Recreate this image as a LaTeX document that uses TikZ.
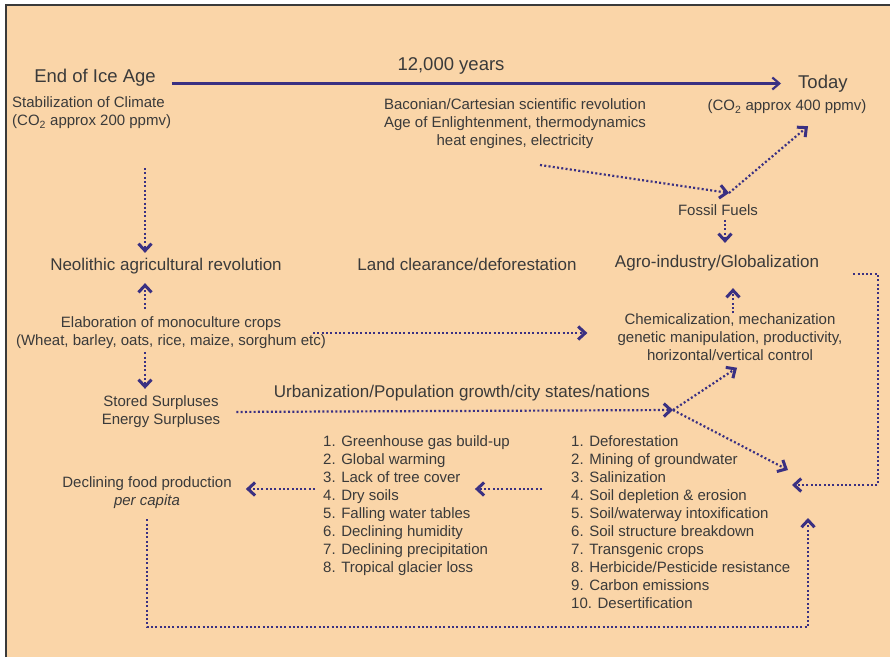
\documentclass[tikz,border=0pt]{standalone}
\usepackage{fontspec}
\setmainfont{Liberation Sans}
\usetikzlibrary{arrows.meta}

\definecolor{peach}{RGB}{250,213,168}
\definecolor{ink}{RGB}{58,58,58}
\definecolor{arrowblue}{RGB}{58,48,130}

\begin{document}
\begin{tikzpicture}[x=1pt,y=-1pt]

    \tikzset{
      big/.style={text=ink,inner sep=0pt,font=\fontsize{18.5}{22}\selectfont},
      mid/.style={text=ink,inner sep=0pt,font=\fontsize{17}{20}\selectfont},
      small/.style={text=ink,inner sep=0pt,align=center,font=\fontsize{15}{18}\selectfont},
      itemlist/.style={text=ink,inner sep=0pt,align=left,anchor=west,font=\fontsize{15}{18}\selectfont},
      timeline/.style={draw=arrowblue,line width=2.6pt,
        -{Straight Barb[length=7pt,width=12pt,line width=2.2pt]}},
      flow/.style={draw=arrowblue,line width=2.2pt,dash pattern=on 2pt off 2.3pt,
        -{Straight Barb[length=7pt,width=13pt,line width=3pt]}},
    }
    \useasboundingbox (0,0) rectangle (890,657);
    \fill[white] (0,0) rectangle (890,657);
    \fill[peach] (6,5) rectangle (890,657);
    \draw[ink,line width=1.5pt] (6,657) -- (6,5) -- (890,5);

    % time line
	\node[big] (ice) at (95,78) {End of Ice Age};
	\node[big] (years) at (451,66) {12,000 years};
	\node[big,anchor=west] (today) at (798,83.5) {Today};
	\node[small] (co400) at (787,107) {(CO\textsubscript{2} approx 400 ppmv)};
	\node[small,align=left,anchor=west] (climate) at (12,113) {Stabilization of Climate\\(CO\textsubscript{2} approx 200 ppmv)};
	\node[small] (bacon) at (515,124) {Baconian/Cartesian scientific revolution\\Age of Enlightenment, thermodynamics\\heat engines, electricity};
	\node[small] (fossil) at (718,210) {Fossil Fuels};

    % middle rows
	\node[mid] (neo) at (166,266) {Neolithic agricultural revolution};
	\node[mid] (land) at (467,264) {Land clearance/deforestation};
	\node[mid] (agro) at (717,263) {Agro-industry/Globalization};
	\node[small] (crops) at (171,333) {Elaboration of monoculture crops\\(Wheat, barley, oats, rice, maize, sorghum etc)};
	\node[small] (chem) at (730,337) {Chemicalization, mechanization\\genetic manipulation, productivity,\\horizontal/vertical control};
	\node[small] (stored) at (161,412) {Stored Surpluses\\Energy Surpluses};
	\node[mid] (urban) at (462,393) {Urbanization/Population growth/city states/nations};

    % consequences
	\node[small] (decl) at (147,493) {Declining food production\\\textit{per capita}};
	\node[itemlist] (glist) at (323,506) {1. Greenhouse gas build-up\\2. Global warming\\3. Lack of tree cover\\4. Dry soils\\5. Falling water tables\\6. Declining humidity\\7. Declining precipitation\\8. Tropical glacier loss};
	\node[itemlist] (slist) at (571,522) {1. Deforestation\\2. Mining of groundwater\\3. Salinization\\4. Soil depletion \& erosion\\5. Soil/waterway intoxification\\6. Soil structure breakdown\\7. Transgenic crops\\8. Herbicide/Pesticide resistance\\9. Carbon emissions\\10. Desertification};

	\coordinate (lcol) at (145,0);
	\coordinate (rcol) at (878,0);
	\coordinate (bot) at (0,627);
	\coordinate (midrow) at (0,489);
	\coordinate (bacontail) at (540,165);
	\coordinate (ffhub) at (729,193);
	\coordinate (jn) at (673,410);
	\coordinate (hitA) at (788,470);
	\coordinate (hitB) at (792,485);
	\coordinate (hitC) at (808,518);

	\draw[timeline,shorten <=16pt,shorten >=17pt] (ice.east |- today.west) -- (today.west);
	\draw[flow,shorten <=39pt,shorten >=5pt] (lcol |- climate.south) -- (lcol |- neo.north);
	\draw[flow,shorten <=8pt,shorten >=9pt] (lcol |- crops.north) -- (lcol |- neo.south);
	\draw[flow,shorten <=3pt,shorten >=7pt] (lcol |- crops.south) -- (lcol |- stored.north);
	\draw[flow,shorten <=-13pt,shorten >=30pt] (crops.east) -- (crops.east -| chem.west);
	\draw[flow,shorten >=17pt] ([xshift=3pt]chem.north) -- ([xshift=3pt]chem.north |- agro.south);
	\draw[flow] (bacontail) -- (ffhub);
	\draw[flow] (ffhub) -- ([xshift=21pt,yshift=-12pt]co400.south);
	\draw[flow,shorten <=4pt,shorten >=12pt] ([xshift=7pt]fossil.south) -- ([xshift=7pt]fossil.south |- agro.north);
	\draw[flow,shorten <=16pt] (stored.east) -- (jn);
	\draw[flow] (jn) -- ([xshift=7pt,yshift=-7pt]chem.south);
	\draw[flow] (jn) -- (hitA);
	\draw[flow,shorten <=34pt] ([yshift=-11pt]agro.east) -- ([yshift=-11pt]agro.east -| rcol) |- (hitB);
	\draw[flow,shorten <=29pt,shorten >=-35pt] (slist.west |- midrow) -- (glist.east |- midrow);
	\draw[flow,shorten <=8pt,shorten >=14pt] (glist.west |- midrow) -- (decl.east |- midrow);
	\draw[flow,shorten <=10pt] (decl.south) -- (decl.south |- bot) -| (hitC);

\end{tikzpicture}
\end{document}
